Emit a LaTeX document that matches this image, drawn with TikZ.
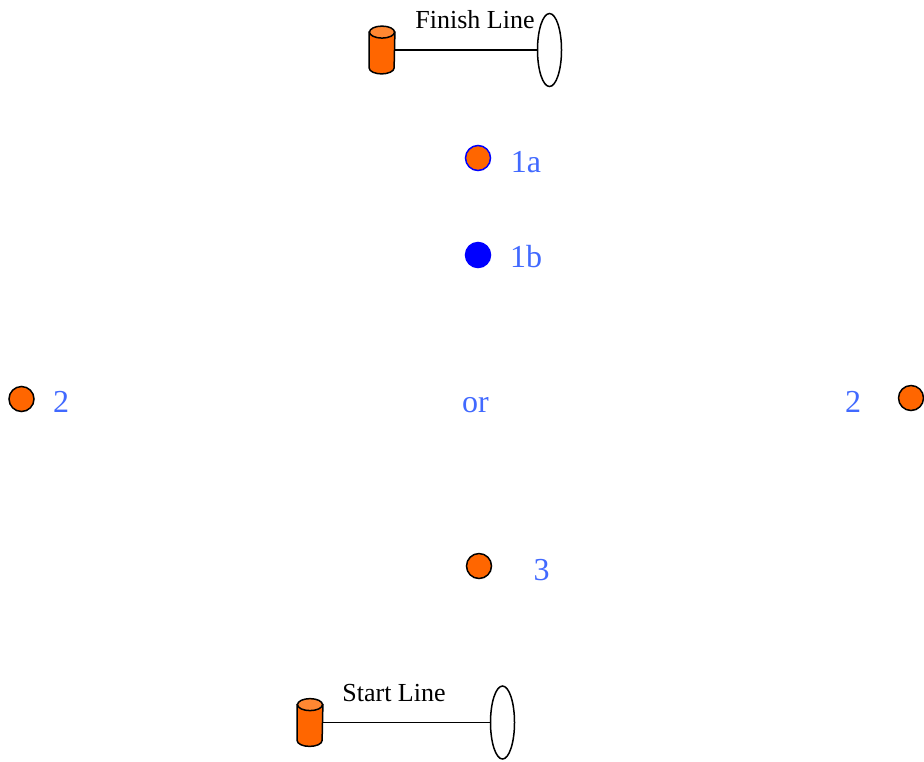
\documentclass[tikz,border=0pt]{standalone}
\usepackage{fontspec}
\setmainfont{Liberation Serif}
\usetikzlibrary{shapes.geometric}
\definecolor{cone}{RGB}{255,102,0}
\definecolor{conetop}{RGB}{255,135,50}
\definecolor{lbl}{RGB}{65,105,255}
\tikzset{
  buoy/.style={circle, draw, line width=0.75pt, fill=cone, minimum size=12.5pt, inner sep=0pt},
  pole/.style={rectangle, minimum height=23.5pt, minimum width=12.5pt, inner sep=0pt},
  flag/.style={ellipse, draw, line width=0.75pt, minimum width=12pt, minimum height=36.5pt, inner sep=0pt},
  tag/.style={text=lbl, font=\fontsize{16}{18}\selectfont, anchor=base, inner sep=0pt},
  gate/.style={font=\fontsize{13}{15}\selectfont, anchor=base, inner sep=0pt}
}
% body and lid of a pole node
\newcommand{\polebody}[1]{%
  \filldraw[line width=0.75pt, fill=cone] ([yshift=-3pt]#1.north west) -- ([yshift=3pt]#1.south west)
    arc[start angle=180, end angle=360, x radius=6.25pt, y radius=3pt] -- ([yshift=-3pt]#1.north east) -- cycle;
  \filldraw[line width=0.75pt, fill=conetop] ([yshift=-3pt]#1.north) ellipse[x radius=6.25pt, y radius=3pt];}
\begin{document}
\begin{tikzpicture}[x=0.5pt,y=-0.5pt]
	\useasboundingbox (0,0) rectangle (924,761);
	% finish line
	\node[pole] (fpole) at (382,50) {};
	\polebody{fpole}
	\node[flag] (fflag) at (549.5,50) {};
	\draw[line width=0.75pt] (fpole.east) -- (fflag.west);
	\node[gate] (ftext) at (475,28) {Finish Line};
	% start line
	\node[pole] (spole) at (310,722.5) {};
	\polebody{spole}
	\node[flag] (sflag) at (502.5,722.5) {};
	\draw[line width=0.75pt] (spole.east) -- (sflag.west);
	\node[gate] (stext) at (394,701) {Start Line};
	% marks
	\node[buoy, draw=blue] (m1a) at (478,158) {};
	\node[tag] (t1a) at (526,172) {1a};
	\node[buoy, draw=blue, fill=blue] (m1b) at (478,255) {};
	\node[tag] (t1b) at (526,267) {1b};
	\node[buoy] (m2l) at (21.5,399) {};
	\node[tag] (t2l) at (61,412) {2};
	\node[tag] (tor) at (475.5,412) {or};
	\node[buoy] (m2r) at (911,398) {};
	\node[tag] (t2r) at (853,412) {2};
	\node[buoy] (m3) at (479,566) {};
	\node[tag] (t3) at (541.5,580) {3};
\end{tikzpicture}
\end{document}
